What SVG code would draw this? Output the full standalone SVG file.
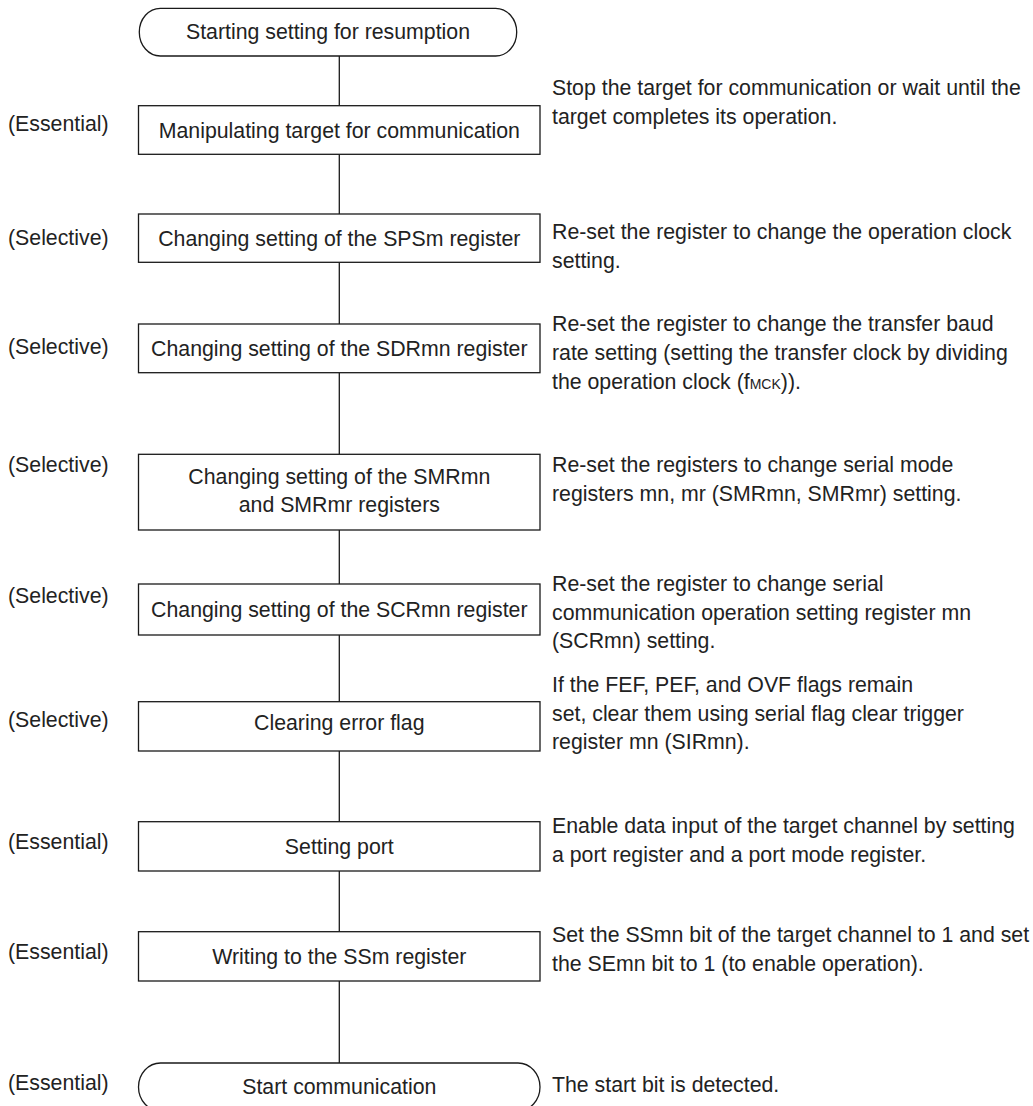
<svg xmlns="http://www.w3.org/2000/svg" width="1033" height="1106" viewBox="0 0 1033 1106">
<style>
  text { font-family: "Liberation Sans", Arial, sans-serif; font-size: 21.3px; fill: #222222; }
  .c { text-anchor: middle; }
  .box { fill: #ffffff; stroke: #1a1a1a; stroke-width: 1.3; }
  .conn { stroke: #1a1a1a; stroke-width: 1.3; fill: none; }
  .sm { font-size: 14px; }
</style>
<rect width="1033" height="1106" fill="#ffffff"/>
<g id="connectors">
  <line class="conn" x1="339.3" y1="56" x2="339.3" y2="105.7"/>
  <line class="conn" x1="339.3" y1="154.3" x2="339.3" y2="214"/>
  <line class="conn" x1="339.3" y1="262.3" x2="339.3" y2="324"/>
  <line class="conn" x1="339.3" y1="372.7" x2="339.3" y2="454.3"/>
  <line class="conn" x1="339.3" y1="530" x2="339.3" y2="584"/>
  <line class="conn" x1="339.3" y1="635" x2="339.3" y2="701.7"/>
  <line class="conn" x1="339.3" y1="751" x2="339.3" y2="821.7"/>
  <line class="conn" x1="339.3" y1="871" x2="339.3" y2="931.7"/>
  <line class="conn" x1="339.3" y1="981" x2="339.3" y2="1063"/>
</g>
<g id="start">
  <rect class="box" x="139.3" y="8.3" width="377.4" height="47.7" rx="21" ry="23.8"/>
  <text class="c" x="328" y="39">Starting setting for resumption</text>
</g>
<g id="n1">
  <text x="8" y="131">(Essential)</text>
  <rect class="box" x="138.5" y="105.7" width="401.5" height="48.6"/>
  <text class="c" x="339.3" y="137.5">Manipulating target for communication</text>
  <text x="552" y="95">Stop the target for communication or wait until the</text>
  <text x="552" y="124">target completes its operation.</text>
</g>
<g id="n2">
  <text x="8" y="245">(Selective)</text>
  <rect class="box" x="138.5" y="214" width="401.5" height="48.3"/>
  <text class="c" x="339.3" y="245.5">Changing setting of the SPSm register</text>
  <text x="552" y="239">Re-set the register to change the operation clock</text>
  <text x="552" y="268">setting.</text>
</g>
<g id="n3">
  <text x="8" y="354">(Selective)</text>
  <rect class="box" x="138.5" y="324" width="401.5" height="48.7"/>
  <text class="c" x="339.3" y="355.5">Changing setting of the SDRmn register</text>
  <text x="552" y="331">Re-set the register to change the transfer baud</text>
  <text x="552" y="360">rate setting (setting the transfer clock by dividing</text>
  <text x="552" y="389">the operation clock (f<tspan class="sm">MCK</tspan>)).</text>
</g>
<g id="n4">
  <text x="8" y="472">(Selective)</text>
  <rect class="box" x="138.5" y="454.3" width="401.5" height="75.7"/>
  <text class="c" x="339.3" y="484">Changing setting of the SMRmn</text>
  <text class="c" x="339.3" y="512">and SMRmr registers</text>
  <text x="552" y="472">Re-set the registers to change serial mode</text>
  <text x="552" y="501">registers mn, mr (SMRmn, SMRmr) setting.</text>
</g>
<g id="n5">
  <text x="8" y="603">(Selective)</text>
  <rect class="box" x="138.5" y="584" width="401.5" height="51"/>
  <text class="c" x="339.3" y="617">Changing setting of the SCRmn register</text>
  <text x="552" y="591">Re-set the register to change serial</text>
  <text x="552" y="620">communication operation setting register mn</text>
  <text x="552" y="648">(SCRmn) setting.</text>
</g>
<g id="n6">
  <text x="8" y="727">(Selective)</text>
  <rect class="box" x="138.5" y="701.7" width="401.5" height="49.3"/>
  <text class="c" x="339.3" y="729.5">Clearing error flag</text>
  <text x="552" y="692">If the FEF, PEF, and OVF flags remain</text>
  <text x="552" y="721">set, clear them using serial flag clear trigger</text>
  <text x="552" y="749">register mn (SIRmn).</text>
</g>
<g id="n7">
  <text x="8" y="849">(Essential)</text>
  <rect class="box" x="138.5" y="821.7" width="401.5" height="49.3"/>
  <text class="c" x="339.3" y="853.5">Setting port</text>
  <text x="552" y="833">Enable data input of the target channel by setting</text>
  <text x="552" y="862">a port register and a port mode register.</text>
</g>
<g id="n8">
  <text x="8" y="959">(Essential)</text>
  <rect class="box" x="138.5" y="931.7" width="401.5" height="49.3"/>
  <text class="c" x="339.3" y="963.5">Writing to the SSm register</text>
  <text x="552" y="942">Set the SSmn bit of the target channel to 1 and set</text>
  <text x="552" y="971">the SEmn bit to 1 (to enable operation).</text>
</g>
<g id="end">
  <text x="8" y="1090">(Essential)</text>
  <rect class="box" x="138.5" y="1063" width="401.5" height="48" rx="22" ry="24"/>
  <text class="c" x="339.3" y="1094">Start communication</text>
  <text x="552" y="1092">The start bit is detected.</text>
</g>
</svg>
